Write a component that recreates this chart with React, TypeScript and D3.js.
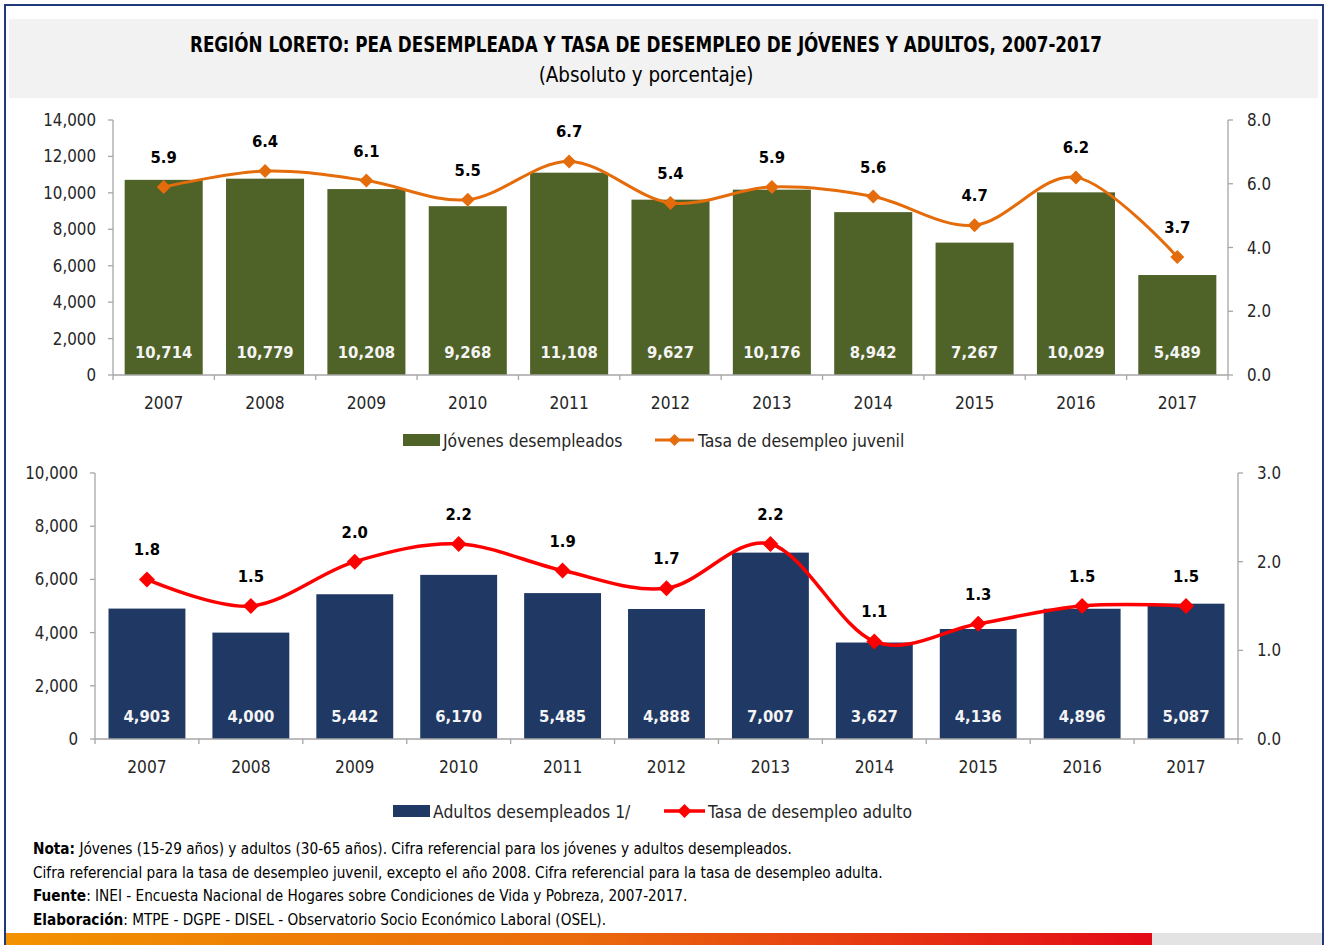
import React from 'react';
import * as d3 from 'd3';

const years = ['2007', '2008', '2009', '2010', '2011', '2012', '2013', '2014', '2015', '2016', '2017'];
const youthUnemployed = [10714, 10779, 10208, 9268, 11108, 9627, 10176, 8942, 7267, 10029, 5489];
const youthRate = [5.9, 6.4, 6.1, 5.5, 6.7, 5.4, 5.9, 5.6, 4.7, 6.2, 3.7];
const adultUnemployed = [4903, 4000, 5442, 6170, 5485, 4888, 7007, 3627, 4136, 4896, 5087];
const adultRate = [1.8, 1.5, 2.0, 2.2, 1.9, 1.7, 2.2, 1.1, 1.3, 1.5, 1.5];

const topLeftTicks = [0, 2000, 4000, 6000, 8000, 10000, 12000, 14000];
const topRightTicks = [0, 2, 4, 6, 8];
const bottomLeftTicks = [0, 2000, 4000, 6000, 8000, 10000];
const bottomRightTicks = [0, 1, 2, 3];

const titleText = 'REGIÓN LORETO: PEA DESEMPLEADA Y TASA DE DESEMPLEO DE JÓVENES Y ADULTOS, 2007-2017';
const subtitleText = '(Absoluto y porcentaje)';
const legendTop = ['Jóvenes desempleados', 'Tasa de desempleo juvenil'];
const legendBottom = ['Adultos desempleados 1/', 'Tasa de desempleo adulto'];
const notes = [
  { bold: 'Nota:', text: ' Jóvenes (15-29 años) y adultos (30-65 años). Cifra referencial para los jóvenes y adultos desempleados.' },
  { bold: '', text: 'Cifra referencial para la tasa de desempleo juvenil, excepto el año 2008. Cifra referencial para la tasa de desempleo adulta.' },
  { bold: 'Fuente', text: ': INEI - Encuesta Nacional de Hogares sobre Condiciones de Vida y Pobreza, 2007-2017.' },
  { bold: 'Elaboración', text: ': MTPE - DGPE - DISEL - Observatorio Socio Económico Laboral (OSEL).' },
];

const FONT = "'Liberation Sans Narrow', 'Arial Narrow', 'DejaVu Sans Condensed', sans-serif";
const AXIS = '#a6a6a6';
const TXT = '#262626';

type PanelProps = {
  bars: number[];
  rates: number[];
  barColor: string;
  lineColor: string;
  x0: number; x1: number; yTop: number; yBottom: number;
  leftMax: number; leftTicks: number[];
  rightMax: number; rightTicks: number[];
  pad: number;
  leftLabelGap: number; rightLabelGap: number;
  markerR: number; lineW: number;
  legend: string[];
  legendY: number;
  legendRect: [number, number];
  legendLine: [number, number];
  legendText2X: number;
};

function diamond(r: number) {
  return `M0,${-r}L${r},0L0,${r}L${-r},0Z`;
}

function Panel(p: PanelProps) {
  const x = d3.scaleBand<string>().domain(years).range([p.x0, p.x1]).paddingInner(p.pad).paddingOuter(p.pad / 2);
  const yL = d3.scaleLinear().domain([0, p.leftMax]).range([p.yBottom, p.yTop]);
  const yR = d3.scaleLinear().domain([0, p.rightMax]).range([p.yBottom, p.yTop]);
  const cx = (d: string) => (x(d) as number) + x.bandwidth() / 2;
  const line = d3.line<number>()
    .x((_, i) => cx(years[i]))
    .y((d) => yR(d))
    .curve(d3.curveCatmullRom.alpha(0));
  const fmtN = d3.format(',');
  const fmtR = d3.format('.1f');
  const step = x.step();
  return (
    <g>
      {p.bars.map((v, i) => (
        <rect key={'b' + i} x={x(years[i])} y={yL(v)} width={x.bandwidth()} height={yL(0) - yL(v)} fill={p.barColor} />
      ))}
      {p.bars.map((v, i) => (
        <text key={'bl' + i} x={cx(years[i])} y={p.yBottom - 17} textAnchor="middle" fill="#f4f4f4" fontWeight="bold" fontSize={16.5}>
          {fmtN(v)}
        </text>
      ))}
      {/* axes */}
      <line x1={p.x0} x2={p.x0} y1={p.yTop} y2={p.yBottom} stroke={AXIS} strokeWidth={1.3} />
      <line x1={p.x1} x2={p.x1} y1={p.yTop} y2={p.yBottom} stroke={AXIS} strokeWidth={1.3} />
      <line x1={p.x0} x2={p.x1} y1={p.yBottom} y2={p.yBottom} stroke={AXIS} strokeWidth={1.3} />
      {d3.range(years.length + 1).map((i) => (
        <line key={'xt' + i} x1={p.x0 + i * step} x2={p.x0 + i * step} y1={p.yBottom} y2={p.yBottom + 5} stroke={AXIS} strokeWidth={1.3} />
      ))}
      {p.leftTicks.map((t) => (
        <g key={'lt' + t}>
          <line x1={p.x0 - 5} x2={p.x0} y1={yL(t)} y2={yL(t)} stroke={AXIS} strokeWidth={1.3} />
          <text x={p.x0 - p.leftLabelGap} y={yL(t) + 6} textAnchor="end" fill={TXT} fontSize={16.8}>{fmtN(t)}</text>
        </g>
      ))}
      {p.rightTicks.map((t) => (
        <g key={'rt' + t}>
          <line x1={p.x1} x2={p.x1 + 5} y1={yR(t)} y2={yR(t)} stroke={AXIS} strokeWidth={1.3} />
          <text x={p.x1 + p.rightLabelGap} y={yR(t) + 6} textAnchor="start" fill={TXT} fontSize={16.8}>{fmtR(t)}</text>
        </g>
      ))}
      {years.map((yr) => (
        <text key={'yr' + yr} x={cx(yr)} y={p.yBottom + 34} textAnchor="middle" fill={TXT} fontSize={17.2}>{yr}</text>
      ))}
      {/* line */}
      <path d={line(p.rates) || ''} fill="none" stroke={p.lineColor} strokeWidth={p.lineW} />
      {p.rates.map((v, i) => (
        <path key={'m' + i} d={diamond(p.markerR)} transform={`translate(${cx(years[i])},${yR(v)})`} fill={p.lineColor} />
      ))}
      {p.rates.map((v, i) => (
        <text key={'rl' + i} x={cx(years[i])} y={yR(v) - 24} textAnchor="middle" fill="#000" fontWeight="bold" fontSize={16.5}>
          {fmtR(v)}
        </text>
      ))}
      {/* legend */}
      <rect x={p.legendRect[0]} y={p.legendY - 6} width={p.legendRect[1] - p.legendRect[0]} height={12} fill={p.barColor} />
      <text x={p.legendRect[1] + 3} y={p.legendY + 7} fill={TXT} fontSize={17.4}>{p.legend[0]}</text>
      <line x1={p.legendLine[0]} x2={p.legendLine[1]} y1={p.legendY} y2={p.legendY} stroke={p.lineColor} strokeWidth={p.lineW} />
      <path d={diamond(p.markerR - 1)} transform={`translate(${(p.legendLine[0] + p.legendLine[1]) / 2},${p.legendY})`} fill={p.lineColor} />
      <text x={p.legendText2X} y={p.legendY + 7} fill={TXT} fontSize={17.4}>{p.legend[1]}</text>
    </g>
  );
}

export default function App() {
  return (
    <div style={{ position: 'absolute', left: 0, top: 0 }}>
      <svg width={1330} height={945} style={{ display: 'block', fontFamily: FONT }}>
        <defs>
          <linearGradient id="bottomBar" x1="0" x2="1" y1="0" y2="0">
            <stop offset="0" stopColor="#f39200" />
            <stop offset="0.5" stopColor="#ea6a0c" />
            <stop offset="1" stopColor="#e30a17" />
          </linearGradient>
        </defs>
        <rect x={0} y={0} width={1330} height={945} fill="#ffffff" />
        <rect x={9} y={19} width={1309} height={79} fill="#f2f2f2" />
        <text x={646} y={52} textAnchor="middle" fontWeight="bold" fontSize={21} fill="#000" textLength={912} lengthAdjust="spacingAndGlyphs">
          {titleText}
        </text>
        <text x={646} y={82} textAnchor="middle" fontSize={20.4} fill="#000">{subtitleText}</text>

        <Panel
          bars={youthUnemployed} rates={youthRate} barColor="#4f6228" lineColor="#e46c0a"
          x0={113} x1={1228} yTop={120} yBottom={375}
          leftMax={14000} leftTicks={topLeftTicks} rightMax={8} rightTicks={topRightTicks}
          pad={0.23} leftLabelGap={17} rightLabelGap={19}
          markerR={7} lineW={3}
          legend={legendTop} legendY={440} legendRect={[403, 440]} legendLine={[655, 694]} legendText2X={698}
        />
        <Panel
          bars={adultUnemployed} rates={adultRate} barColor="#1f3864" lineColor="#ff0000"
          x0={95} x1={1238} yTop={473} yBottom={739}
          leftMax={10000} leftTicks={bottomLeftTicks} rightMax={3} rightTicks={bottomRightTicks}
          pad={0.26} leftLabelGap={17} rightLabelGap={19}
          markerR={8} lineW={3.5}
          legend={legendBottom} legendY={811} legendRect={[393, 430]} legendLine={[664, 705]} legendText2X={708}
        />

        {notes.map((n, i) => (
          <text key={'n' + i} x={33} y={854 + i * 23.7} fontSize={15.2} fill="#000">
            {n.bold ? <tspan fontWeight="bold">{n.bold}</tspan> : null}
            <tspan>{n.text}</tspan>
          </text>
        ))}

        <rect x={6} y={933} width={1146} height={12} fill="url(#bottomBar)" />
        <rect x={1152} y={933} width={171} height={12} fill="#e3e3e3" />
        <rect x={5} y={5} width={1318} height={945} fill="none" stroke="#1f3a7a" strokeWidth={2} />
      </svg>
    </div>
  );
}
